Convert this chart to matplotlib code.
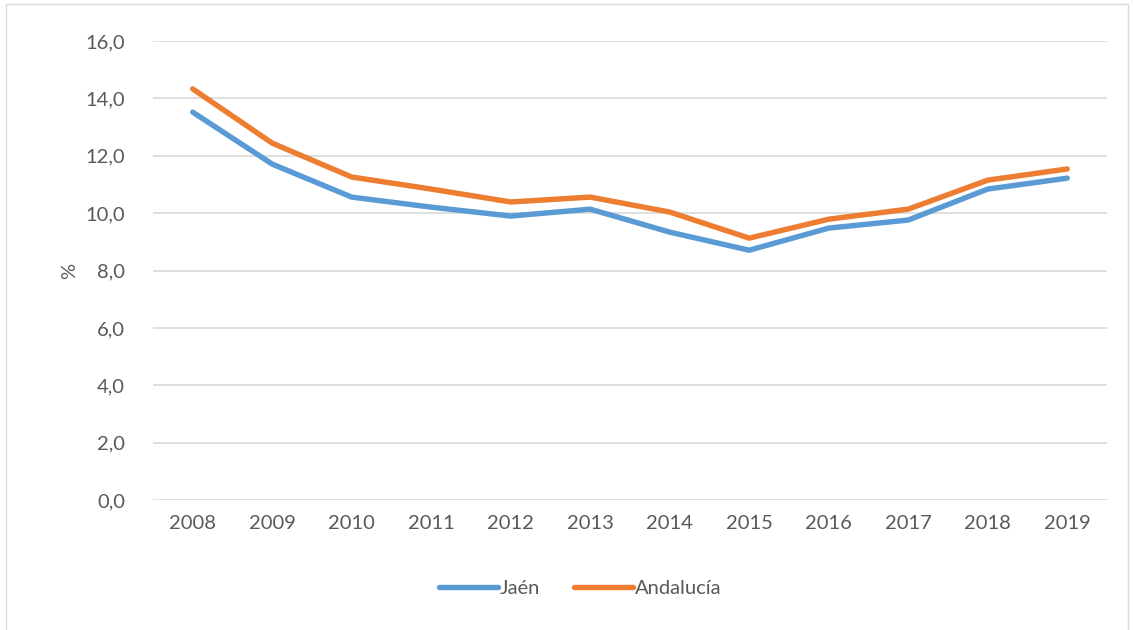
import matplotlib
matplotlib.use("Agg")
import matplotlib.pyplot as plt
from matplotlib.patches import Rectangle
from matplotlib.ticker import FuncFormatter

years = ["2008", "2009", "2010", "2011", "2012", "2013",
         "2014", "2015", "2016", "2017", "2018", "2019"]
jaen = [13.52, 11.71, 10.56, 10.21, 9.90, 10.14, 9.34, 8.71, 9.48, 9.76, 10.84, 11.22]
andalucia = [14.33, 12.44, 11.26, 10.84, 10.39, 10.56, 10.04, 9.13, 9.79, 10.14, 11.15, 11.54]

plt.rcParams["font.family"] = ["Lato", "DejaVu Sans"]
text_color = "#595959"
fs = 14.5

fig = plt.figure(figsize=(11.33, 6.3), dpi=100)
ax = fig.add_axes([0.135, 0.206, 0.842, 0.729])

xs = range(len(years))
ax.plot(xs, jaen, color="#5B9BD5", lw=3.9, solid_capstyle="round", label="Jaén")
ax.plot(xs, andalucia, color="#ED7D31", lw=3.9, solid_capstyle="round", label="Andalucía")

ax.set_xlim(-0.5, len(years) - 0.5)
ax.set_ylim(0, 16)
ax.set_yticks(range(0, 17, 2))
ax.yaxis.set_major_formatter(FuncFormatter(lambda v, p: f"{v:.1f}".replace(".", ",")))
ax.set_xticks(list(xs))
ax.set_xticklabels(years)
ax.grid(axis="y", color="#d9d9d9", lw=1.2)
ax.set_axisbelow(True)
for s in ax.spines.values():
    s.set_visible(False)
ax.tick_params(length=0, labelsize=fs, colors=text_color, pad=11)
ax.tick_params(axis="y", pad=20)
ax.set_ylabel("%", fontsize=fs, color=text_color, labelpad=5)

fig.legend(loc="center", bbox_to_anchor=(0.512, 0.066), ncol=2, frameon=False,
           fontsize=fs, labelcolor=text_color, handlelength=2.9,
           handletextpad=0.1, columnspacing=1.7)

fig.patches.append(Rectangle((6 / 1133, -0.1), 1122 / 1133, 1.093,
                             transform=fig.transFigure, fill=False,
                             edgecolor="#d9d9d9", lw=1))

fig.savefig("out.png", dpi=100)
